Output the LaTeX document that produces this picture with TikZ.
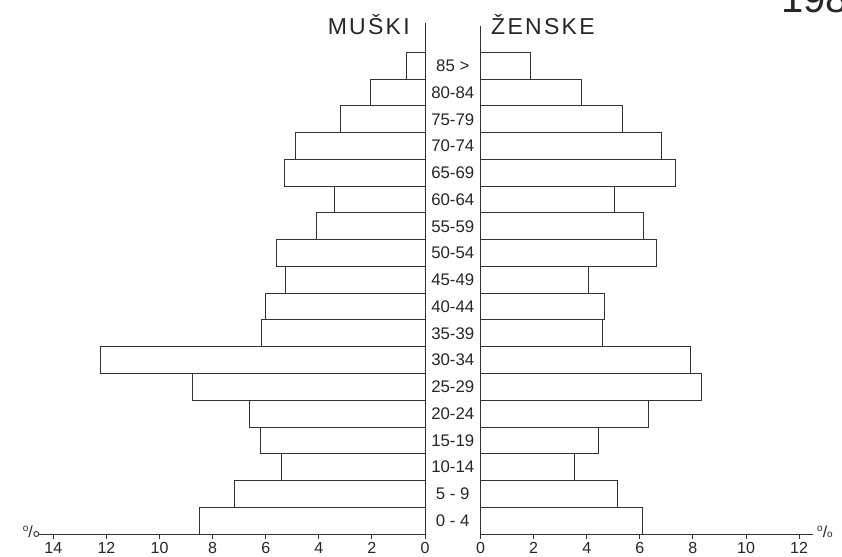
\documentclass[tikz,border=0pt]{standalone}
\usepackage{fontspec}
\setmainfont{Liberation Sans}
\begin{document}
\begin{tikzpicture}[x=1pt,y=-1pt,
  ln/.style={draw=black!80, line width=0.9pt},
  barbox/.style={draw=black!80, line width=0.9pt, fill=white},
  agelab/.style={font=\fontsize{16.8}{16.8}\selectfont, text=black!85, inner sep=0pt},
  ticklab/.style={font=\fontsize{16}{16}\selectfont, text=black!85, inner sep=0pt, anchor=base},
  sexlab/.style={font=\fontsize{23}{23}\selectfont\addfontfeature{LetterSpace=10}, text=black!85, inner sep=0pt},
  pctlab/.style={text=black!85, inner sep=0pt}]
\useasboundingbox (0,0) rectangle (842,556);
\clip (0,0) rectangle (842,556);
\fill[white] (0,0) rectangle (842,556);
\def\LZ{425}
\def\RZ{480.5}
\def\U{26.55}
\def\B{534}
\def\H{26.76}
\newcommand\pctsign{\raisebox{6pt}{\fontsize{10}{10}\selectfont o}\fontsize{16}{16}\selectfont/\fontsize{10}{10}\selectfont o}
% bars and age labels
\foreach \i/\lab/\m/\f in {
  0/{0 - 4}/8.49/6.09,
  1/{5 - 9}/7.19/5.14,
  2/{10-14}/5.42/3.52,
  3/{15-19}/6.20/4.46,
  4/{20-24}/6.62/6.34,
  5/{25-29}/8.75/8.32,
  6/{30-34}/12.23/7.91,
  7/{35-39}/6.17/4.58,
  8/{40-44}/6.02/4.67,
  9/{45-49}/5.27/4.07,
  10/{50-54}/5.60/6.64,
  11/{55-59}/4.09/6.15,
  12/{60-64}/3.40/5.04,
  13/{65-69}/5.30/7.33,
  14/{70-74}/4.87/6.82,
  15/{75-79}/3.18/5.36,
  16/{80-84}/2.05/3.80,
  17/{85 >}/0.69/1.88}{
  \pgfmathsetmacro\yb{\B-\i*\H}
  \pgfmathsetmacro\yt{\B-(\i+1)*\H}
  \pgfmathsetmacro\yc{\B-(\i+0.5)*\H}
  \draw[barbox] (\LZ-\m*\U,\yt) rectangle (\LZ,\yb);
  \draw[barbox] (\RZ,\yt) rectangle (\RZ+\f*\U,\yb);
  \node[agelab] (age\i) at (452.75,\yc) {\lab};
}
% central vertical lines
\coordinate (lvt) at (\LZ,23);
\coordinate (lvb) at (\LZ,538.5);
\coordinate (rvt) at (\RZ,26);
\coordinate (rvb) at (\RZ,538.5);
\draw[ln] (lvt) -- (lvb);
\draw[ln] (rvt) -- (rvb);
% axes
\coordinate (laxl) at (39,\B);
\coordinate (laxr) at (\LZ,\B);
\coordinate (raxl) at (\RZ,\B);
\coordinate (raxr) at (813,\B);
\draw[ln] (laxl) -- (laxr);
\draw[ln] (raxl) -- (raxr);
\draw[ln] (36.3,\B) circle (2.5);
\foreach \v in {2,4,...,14}{
  \draw[ln] (\LZ-\v*\U,\B) -- ++(0,4.5);
}
\foreach \v in {0,2,...,14}{
  \node[ticklab] (lt\v) at (\LZ-\v*\U,553.5) {\v};
}
\foreach \v in {2,4,...,12}{
  \draw[ln] (\RZ+\v*\U,\B) -- ++(0,4.5);
}
\foreach \v in {0,2,...,12}{
  \node[ticklab] (rt\v) at (\RZ+\v*\U,553.5) {\v};
}
% percent signs
\node[pctlab, anchor=base east] (lpct) at (33,537.5) {\raisebox{6pt}{\fontsize{10}{10}\selectfont o}\fontsize{16}{16}\selectfont/};
\node[pctlab, anchor=base west] (rpct) at (817,537.5) {\pctsign};
% headings
\node[sexlab, anchor=base east] (muski) at (410,35) {MUŠKI};
\node[sexlab, anchor=base west] (zenske) at (491,35) {ŽENSKE};
\node[anchor=base west, inner sep=0pt, text=black!85, font=\fontsize{40}{40}\selectfont] (year) at (781,13) {1981};
\end{tikzpicture}
\end{document}
